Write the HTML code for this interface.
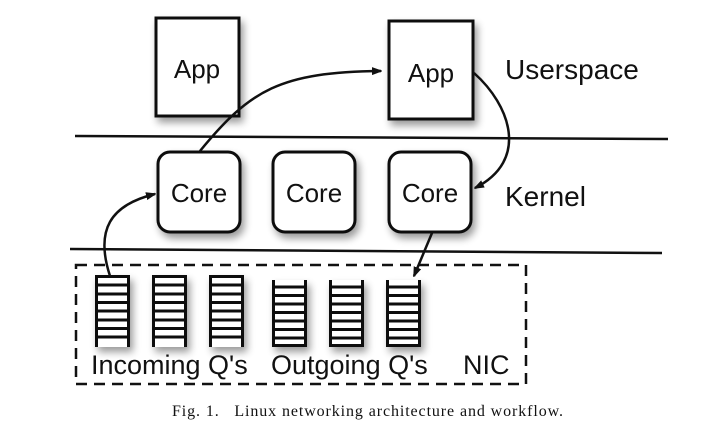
<!DOCTYPE html>
<html><head><style>body{margin:0;background:#fff}svg{display:block}</style></head><body>
<svg width="704" height="440" viewBox="0 0 704 440" xmlns="http://www.w3.org/2000/svg">
<defs>
<filter id="sh" x="-30%" y="-30%" width="160%" height="160%"><feGaussianBlur in="SourceAlpha" stdDeviation="4"/><feOffset dx="3" dy="5"/><feComponentTransfer><feFuncA type="linear" slope="0.4"/></feComponentTransfer><feMerge><feMergeNode/><feMergeNode in="SourceGraphic"/></feMerge></filter>
<marker id="ah" markerWidth="10" markerHeight="8" refX="9" refY="4" orient="auto" markerUnits="userSpaceOnUse"><path d="M0,0 L11,4 L0,8 z" fill="#111"/></marker>
<g id="qi" stroke="#111" stroke-width="3" fill="#fff">
<rect x="0" y="0" width="35" height="72" stroke="none"/>
<line x1="1.5" y1="0" x2="1.5" y2="72"/><line x1="33.5" y1="0" x2="33.5" y2="72"/>
<line x1="0" y1="1.5" x2="35" y2="1.5"/><line x1="0" y1="10" x2="35" y2="10"/><line x1="0" y1="19" x2="35" y2="19"/><line x1="0" y1="27.5" x2="35" y2="27.5"/><line x1="0" y1="36" x2="35" y2="36"/><line x1="0" y1="45" x2="35" y2="45"/><line x1="0" y1="53.5" x2="35" y2="53.5"/><line x1="0" y1="62" x2="35" y2="62"/>
</g>
<g id="qo" stroke="#111" stroke-width="3" fill="#fff">
<rect x="0" y="0" width="35" height="67" stroke="none"/>
<line x1="1.5" y1="0" x2="1.5" y2="67"/><line x1="33.5" y1="0" x2="33.5" y2="67"/>
<line x1="0" y1="7" x2="35" y2="7"/><line x1="0" y1="15.5" x2="35" y2="15.5"/><line x1="0" y1="24" x2="35" y2="24"/><line x1="0" y1="32.5" x2="35" y2="32.5"/><line x1="0" y1="41" x2="35" y2="41"/><line x1="0" y1="49.5" x2="35" y2="49.5"/><line x1="0" y1="58" x2="35" y2="58"/><line x1="0" y1="65.5" x2="35" y2="65.5"/>
</g>
</defs>
<g font-family="Liberation Sans, sans-serif" fill="#111">
<g filter="url(#sh)" stroke="#111" stroke-width="3" fill="#fff">
<rect x="156" y="18" width="83" height="98"/>
<rect x="389" y="21" width="84" height="98"/>
<rect x="158" y="152" width="82" height="80" rx="12"/>
<rect x="273" y="152" width="82" height="80" rx="12"/>
<rect x="389" y="152" width="82" height="80" rx="12"/>
</g>
<line x1="75" y1="136" x2="668" y2="139" stroke="#111" stroke-width="2.5"/>
<line x1="70" y1="249" x2="662" y2="253" stroke="#111" stroke-width="2.5"/>
<text x="197" y="78" font-size="26" text-anchor="middle">App</text>
<text x="431" y="82" font-size="26" text-anchor="middle">App</text>
<text x="199" y="202" font-size="26" text-anchor="middle">Core</text>
<text x="314" y="202" font-size="26" text-anchor="middle">Core</text>
<text x="430" y="202" font-size="26" text-anchor="middle">Core</text>
<text x="505" y="79" font-size="28">Userspace</text>
<text x="505" y="206" font-size="28">Kernel</text>
<rect x="76" y="265" width="450" height="119" fill="none" stroke="#111" stroke-width="2.5" stroke-dasharray="11,7"/>
<g filter="url(#sh)">
<use href="#qi" x="95" y="275"/><use href="#qi" x="152" y="275"/><use href="#qi" x="209" y="275"/>
<use href="#qo" x="272" y="280"/><use href="#qo" x="329" y="280"/><use href="#qo" x="386" y="280"/>
</g>
<text x="91" y="374" font-size="27">Incoming Q's</text>
<text x="271" y="374" font-size="27">Outgoing Q's</text>
<text x="463" y="374" font-size="27">NIC</text>
<g fill="none" stroke="#111" stroke-width="2.5" marker-end="url(#ah)">
<path d="M200,151 C250,90 280,72 381,71"/>
<path d="M474,73 C510,105 530,160 475,188"/>
<path d="M110,276 C95,230 110,205 155,194"/>
<path d="M432,233 L414,276"/>
</g>
<text x="172" y="416" font-size="16" font-family="Liberation Serif, serif" textLength="391" lengthAdjust="spacing">Fig. 1.&#160;&#160;&#160;Linux networking architecture and workflow.</text>
</g>
</svg>
</body></html>
